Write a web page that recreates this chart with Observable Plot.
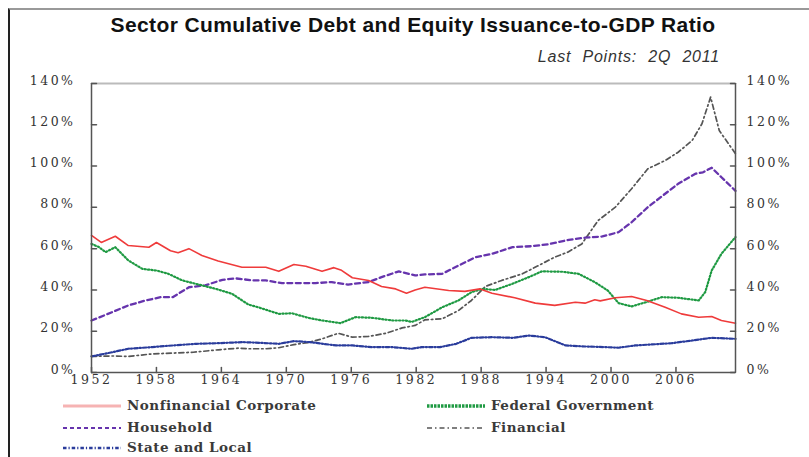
<!DOCTYPE html>
<html><head><meta charset="utf-8">
<script src="https://cdn.jsdelivr.net/npm/d3@7"></script>
<script src="https://cdn.jsdelivr.net/npm/@observablehq/plot@0.6"></script>
<style>
html,body{margin:0;padding:0;background:#fff;width:809px;height:457px;overflow:hidden;position:relative;}
#frame{position:absolute;left:8px;top:8px;width:801px;height:449px;border-top:2px solid #999;border-left:2px solid #222;box-sizing:border-box;}
#title{position:absolute;left:0;width:826px;top:13px;text-align:center;font:bold 21px "Liberation Sans",Arial,sans-serif;letter-spacing:0.4px;color:#111;white-space:nowrap;}
#subtitle{position:absolute;right:89px;top:48px;font:italic 16px "Liberation Sans",Arial,sans-serif;letter-spacing:0.8px;color:#333;word-spacing:6px;white-space:nowrap;}
#chart{position:absolute;left:0;top:60px;}
#chart g[aria-label$="tick label"] text{letter-spacing:2.5px;}
.leg{position:absolute;height:20px;display:flex;align-items:center;font:bold 13.5px "DejaVu Serif",serif;color:#3a3a3a;letter-spacing:0.5px;white-space:nowrap;}
.leg svg{margin-right:6px;}
</style></head>
<body>
<div id="frame"></div>
<div id="title">Sector Cumulative Debt and Equity Issuance-to-GDP Ratio</div>
<div id="subtitle">Last Points: 2Q 2011</div>
<div id="chart"></div>
<div id="legend"></div>
<script>
// ---- data (percent of GDP) ----
const nfcYears = [1952,1952.9,1954.2,1955.4,1957.3,1958.0,1959.3,1960.0,1961.0,1962.2,1963.7,1965.9,1967.1,1968.1,1969.3,1970.7,1971.8,1973.3,1974.4,1975.1,1976.1,1977.6,1978.8,1980.1,1981.1,1981.9,1982.8,1985.0,1986.5,1987.9,1989.0,1991.1,1993.0,1994.8,1996.7,1997.6,1998.5,1999.0,2000.4,2001.9,2003.3,2005.0,2006.5,2008.1,2009.3,2010.2,2011.5];
const nfcValues = [66.4,63,66,61.5,60.7,63,59,58,60,56.7,54,51,51,51,49,52.3,51.5,49,50.8,49.5,45.9,44.6,41.7,40.5,38.4,40,41.3,39.7,39.3,40.5,38.4,36.2,33.6,32.5,34,33.6,35.2,34.7,36.2,36.8,34.9,31.6,28.4,26.8,27.1,25.2,23.9];

const fedYears = [1952,1952.7,1953.3,1954.2,1955.4,1956.7,1958.0,1959.1,1960.4,1961.9,1963.5,1965.0,1966.5,1967.4,1969.3,1970.5,1972.0,1973.3,1975.0,1976.4,1977.9,1979.8,1981.0,1981.6,1982.8,1984.4,1985.9,1987.1,1988.1,1989.3,1990.9,1992.4,1993.6,1995.5,1997.0,1998.5,1999.7,2000.7,2001.9,2003.2,2004.7,2006.2,2008.1,2008.7,2009.3,2010.2,2011.5];
const fedValues = [62.3,60.7,58.3,60.7,54.3,50.2,49.4,47.8,44.6,42.6,40.5,38.1,32.9,31.6,28.4,28.7,26.5,25.2,23.9,26.8,26.5,25.2,25.2,24.5,26.8,31.6,34.9,38.9,40.5,40,43,46.2,49,48.8,47.8,43.8,39.7,33.6,32,34,36.5,36.2,34.9,38.9,49.4,57.5,65.6];

const hhYears = [1952,1953.9,1955.4,1957.0,1958.4,1959.5,1961.0,1962.5,1964.1,1965.3,1966.9,1968.1,1969.6,1971.1,1972.7,1974.2,1975.7,1977.6,1978.8,1980.4,1981.9,1982.8,1984.4,1985.9,1987.5,1989.0,1990.9,1992.7,1994.2,1996.1,1997.6,1999.2,2000.7,2001.9,2003.4,2005.0,2006.2,2007.8,2008.5,2009.3,2010.2,2011.5];
const hhValues = [25.2,29.2,32.5,34.9,36.5,36.5,41.3,42.2,44.9,45.6,44.6,44.6,43.3,43.3,43.3,43.8,42.6,43.8,46.2,49,47,47.5,47.8,51.8,55.9,57.5,60.7,61.2,62.1,64.3,65.3,65.9,68,72.8,80.1,86.6,91.4,96.3,97,99.2,94.6,88];

const finYears = [1952,1953.9,1955.4,1957.6,1959.5,1961.4,1963.7,1965.6,1966.5,1968.1,1969.3,1970.7,1972.0,1973.3,1974.8,1976.1,1977.6,1979.2,1980.7,1981.9,1982.8,1984.4,1985.9,1987.1,1988.4,1989.9,1991.8,1993.3,1994.8,1996.0,1997.3,1998.8,2000.4,2001.9,2003.4,2005.0,2006.2,2007.5,2008.4,2009.2,2010.0,2011.5];
const finValues = [7.8,8,7.8,9,9.4,9.8,11,11.8,11.5,11.5,12,13.5,14.5,16.3,19,17.1,17.5,19,21.6,22.8,25.5,26,30,34.9,41.7,44.6,47.8,51.8,55.9,58.3,62.3,73.6,80.1,89,98.7,102.7,106.7,112.4,120.5,133.4,117.2,106];

const slYears = [1952,1953.9,1955.4,1957.6,1959.5,1961.7,1963.7,1965.9,1967.1,1969.3,1970.7,1972.2,1974.6,1976.1,1977.9,1979.8,1981.6,1982.5,1984.2,1985.7,1987.1,1989.0,1990.9,1992.4,1993.9,1995.8,1997.6,1999.5,2000.7,2002.2,2003.8,2005.6,2007.5,2009.3,2011.5];
const slValues = [7.8,9.8,11.5,12.3,13.1,13.9,14.2,14.7,14.5,13.9,15.2,14.7,13.1,13.1,12.3,12.3,11.5,12.3,12.3,13.9,16.8,17.1,16.8,17.9,17.1,13.1,12.6,12.3,12,13.1,13.6,14.2,15.5,16.8,16.3];

const seriesNames = ["Nonfinancial Corporate","Federal Government","Household","Financial","State and Local"];
const xTicks = [1952,1958,1964,1970,1976,1982,1988,1994,2000,2006];
const yTicks = [0,20,40,60,80,100,120,140];
const xDomain = [1952, 2011.5];
const yDomain = [0, 140];

// ---- styles ----
const styles = {
  "Nonfinancial Corporate": {stroke:"#ef3b3b", strokeWidth:1.6, dash:null, legStroke:"#f6b3b3", legWidth:3, legDash:null},
  "Federal Government": {stroke:"#1f9a43", strokeWidth:2.2, dash:"1.2,2.2", legStroke:"#1f9a43", legWidth:3.5, legDash:"2.5,1"},
  "Household": {stroke:"#6634ad", strokeWidth:2.3, dash:"5,3.5", legStroke:"#6634ad", legWidth:2, legDash:"4,3"},
  "Financial": {stroke:"#555555", strokeWidth:1.7, dash:"5,3,1.5,3", legStroke:"#555555", legWidth:1.6, legDash:"5,3,1.5,3"},
  "State and Local": {stroke:"#2a3c9c", strokeWidth:2.2, dash:"3.5,2,1.2,2", legStroke:"#2a3c9c", legWidth:2.4, legDash:"3.5,2,1.2,2"}
};

const toRows = (ys, vs) => ys.map((y, i) => ({year: y, value: vs[i]}));
const seriesData = {
  "Nonfinancial Corporate": toRows(nfcYears, nfcValues),
  "Federal Government": toRows(fedYears, fedValues),
  "Household": toRows(hhYears, hhValues),
  "Financial": toRows(finYears, finValues),
  "State and Local": toRows(slYears, slValues)
};

const tickShape = {draw(context, l) { context.moveTo(0, 0); context.lineTo(0, -l); }};
const font = "DejaVu Serif";
const axisColor = "#555";

const drawOrder = ["Financial","State and Local","Household","Federal Government","Nonfinancial Corporate"];
const lineMarks = drawOrder.map(name => Plot.line(seriesData[name], {
  x: "year", y: "value", stroke: styles[name].stroke, strokeWidth: styles[name].strokeWidth,
  strokeDasharray: styles[name].dash, curve: "linear"
}));

const chart = Plot.plot({
  width: 809, height: 340,
  marginTop: 23, marginBottom: 28, marginLeft: 91, marginRight: 74,
  x: {domain: xDomain}, y: {domain: yDomain},
  style: {background: "transparent", overflow: "visible"},
  marks: [
    ...lineMarks,
    Plot.ruleY([yDomain[1]], {stroke: "#bbb", strokeWidth: 2}),
    Plot.ruleY([yDomain[0]], {stroke: axisColor, strokeWidth: 1.5}),
    Plot.ruleX([xDomain[0]], {stroke: axisColor, strokeWidth: 1.5}),
    Plot.ruleX([xDomain[1]], {stroke: axisColor, strokeWidth: 1.5}),
    Plot.vector(yTicks, {x: () => xDomain[0], y: d => d, length: 5, rotate: 90, anchor: "start", shape: tickShape, stroke: axisColor}),
    Plot.vector(yTicks, {x: () => xDomain[1], y: d => d, length: 5, rotate: -90, anchor: "start", shape: tickShape, stroke: axisColor}),
    Plot.vector(xTicks, {x: d => d, y: () => yDomain[0], length: 5, rotate: 0, anchor: "start", shape: tickShape, stroke: axisColor}),
    Plot.axisY({ticks: yTicks, anchor: "left", tickSize: 0, tickPadding: 16, tickFormat: d => d + "%", fontFamily: font, fontSize: 12.5, fill: "#333", label: null, dy: -3}),
    Plot.axisY({ticks: yTicks, anchor: "right", tickSize: 0, tickPadding: 11, tickFormat: d => d + "%", fontFamily: font, fontSize: 12.5, fill: "#333", label: null, dy: -3}),
    Plot.axisX({ticks: xTicks, anchor: "bottom", tickSize: 0, tickPadding: 3, tickFormat: d => String(d), fontFamily: font, fontSize: 12.5, fill: "#333", label: null})
  ]
});
document.getElementById("chart").appendChild(chart);

// ---- legend ----
const legPos = {
  "Nonfinancial Corporate": [63, 395],
  "Federal Government": [427, 395],
  "Household": [63, 417],
  "Financial": [427, 417],
  "State and Local": [63, 437]
};
const legend = d3.select("#legend");
seriesNames.forEach(name => {
  const s = styles[name];
  const item = legend.append("div").attr("class", "leg")
    .style("left", legPos[name][0] + "px").style("top", legPos[name][1] + "px");
  const svg = item.append("svg").attr("width", 58).attr("height", 10);
  svg.append("line").attr("x1", 0).attr("x2", 58).attr("y1", 6).attr("y2", 6)
    .attr("stroke", s.legStroke).attr("stroke-width", s.legWidth)
    .attr("stroke-dasharray", s.legDash);
  item.append("span").text(name);
});
</script>
</body></html>
